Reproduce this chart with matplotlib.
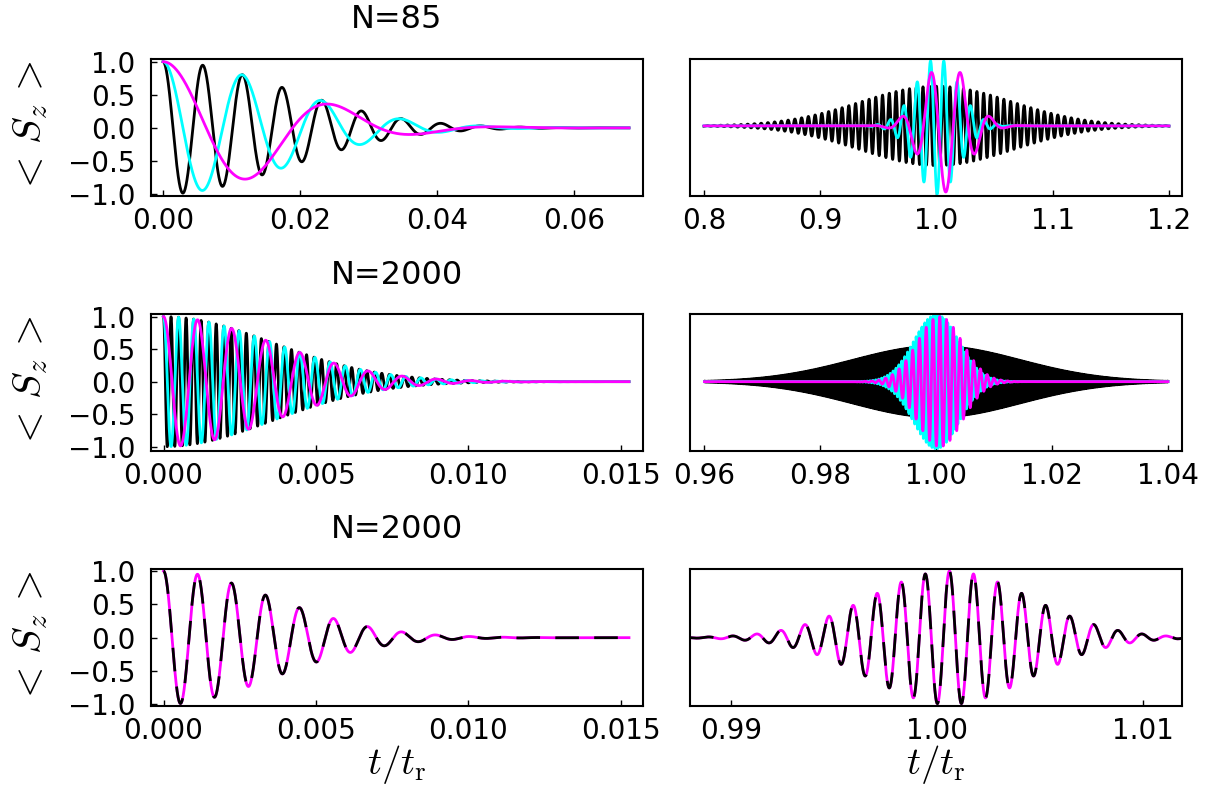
import numpy as np
import matplotlib
matplotlib.use("Agg")
import matplotlib.pyplot as plt

plt.rcParams['font.family'] = ['DejaVu Sans']
plt.rcParams['mathtext.fontset'] = 'cm'
plt.rcParams['axes.unicode_minus'] = True

# ---------------- values ----------------
series_colors = ["#000000", "#00FFFF", "#FF00FF"]   # black, cyan, magenta

# Row 1 (N=85): collapse (left) and revival (right)
r1_left_t = [0.0, 0.068]
r1_left_amp = [1.0, 1.0, 1.0]
r1_left_period = [0.0058, 0.0116, 0.0252]
r1_left_width = [0.0248, 0.0246, 0.0243]

r1_right_t = [0.8, 1.2]
r1_right_amp = [0.60, 1.03, 1.0]
r1_right_period = [0.0058, 0.0115, 0.0255]
r1_right_width = [0.092, 0.026, 0.027]
r1_right_center = [1.0, 1.0006, 1.008]
r1_right_sign = [1, -1, -1]
r1_right_offset = [0.03, 0.03, 0.03]

# Row 2 (N=2000)
r2_left_t = [0.0, 0.01527]
r2_left_amp = [1.0, 1.0, 1.0]
r2_left_period = [0.000247, 0.000497, 0.00112]
r2_left_width = [0.0050, 0.0050, 0.0050]

r2_right_t = [0.96, 1.04]
r2_right_amp = [0.55, 1.03, 1.0]
r2_right_period = [0.000247, 0.000497, 0.00117]
r2_right_width = [0.0205, 0.0055, 0.0055]
r2_right_center = [1.0, 1.0, 1.0006]
r2_right_sign = [1, 1, 1]

# Row 3 (N=2000): magenta solid, black dashed (identical)
r3_left_t = [0.0, 0.01527]
r3_left_amp = [1.0]
r3_left_period = [0.001117]
r3_left_width = [0.0050]

r3_right_t = [0.988, 1.012]
r3_right_amp = [1.0]
r3_right_period = [0.00117]
r3_right_width = [0.0055]
r3_right_center = [1.0006]

titles = ["N=85", "N=2000", "N=2000"]
left_xticks = [[0.0, 0.02, 0.04, 0.06], [0.0, 0.005, 0.010, 0.015], [0.0, 0.005, 0.010, 0.015]]
left_xticklabels = [["0.00", "0.02", "0.04", "0.06"],
                    ["0.000", "0.005", "0.010", "0.015"],
                    ["0.000", "0.005", "0.010", "0.015"]]
right_xticks = [[0.8, 0.9, 1.0, 1.1, 1.2], [0.96, 0.98, 1.00, 1.02, 1.04], [0.99, 1.00, 1.01]]
right_xticklabels = [["0.8", "0.9", "1.0", "1.1", "1.2"],
                     ["0.96", "0.98", "1.00", "1.02", "1.04"],
                     ["0.99", "1.00", "1.01"]]
yticks = [-1.0, -0.5, 0.0, 0.5, 1.0]
yticklabels = ["\u22121.0", "\u22120.5", "0.0", "0.5", "1.0"]


def sz(t, amp, period, width, center=0.0, sign=1, offset=0.0):
    return offset + sign * amp * np.cos(2 * np.pi * (t - center) / period) * \
        np.exp(-((t - center) / width) ** 2)


# ---------------- figure ----------------
W, H = 1217, 796
fig = plt.figure(figsize=(W / 100, H / 100), dpi=100)

col_x = [150.7, 690.0]
col_w = 492.0
row_top = [59.0, 314.0, 569.0]
row_bot = [196.0, 451.0, 706.0]
xlims_left = [(-0.0018, 0.0700), (-0.00042, 0.01572), (-0.00042, 0.01572)]
xlims_right = [(0.788, 1.2112), (0.9575, 1.0424), (0.98801, 1.01189)]
ylims = [(-1.03, 1.041), (-1.066, 1.04), (-1.025, 1.03)]

TICK_FS = 20

axes = []
for r in range(3):
    row = []
    for c in range(2):
        ax = fig.add_axes([col_x[c] / W, 1 - row_bot[r] / H, col_w / W,
                           (row_bot[r] - row_top[r]) / H])
        for s in ax.spines.values():
            s.set_linewidth(1.5)
        ax.tick_params(direction='in', length=4, width=1, labelsize=TICK_FS,
                       top=False, right=False)
        ax.tick_params(axis='x', pad=8)
        ax.tick_params(axis='y', pad=11)
        ax.set_ylim(*ylims[r])
        ax.set_yticks(yticks)
        if c == 0:
            ax.set_yticklabels(yticklabels)
            ax.set_xlim(*xlims_left[r])
            ax.set_xticks(left_xticks[r])
            ax.set_xticklabels(left_xticklabels[r])
        else:
            ax.tick_params(axis='y', left=False, labelleft=False)
            ax.set_xlim(*xlims_right[r])
            ax.set_xticks(right_xticks[r])
            ax.set_xticklabels(right_xticklabels[r])
        row.append(ax)
    axes.append(row)

lw = 2.0

# Row 1
t = np.linspace(r1_left_t[0], r1_left_t[1], 4000)
for i in range(3):
    axes[0][0].plot(t, sz(t, r1_left_amp[i], r1_left_period[i], r1_left_width[i]),
                    color=series_colors[i], lw=lw)
t = np.linspace(r1_right_t[0], r1_right_t[1], 20000)
for i in range(3):
    axes[0][1].plot(t, sz(t, r1_right_amp[i], r1_right_period[i], r1_right_width[i],
                          r1_right_center[i], r1_right_sign[i], r1_right_offset[i]),
                    color=series_colors[i], lw=lw)

# Row 2
t = np.linspace(r2_left_t[0], r2_left_t[1], 20000)
for i in range(3):
    axes[1][0].plot(t, sz(t, r2_left_amp[i], r2_left_period[i], r2_left_width[i]),
                    color=series_colors[i], lw=lw)
t = np.linspace(r2_right_t[0], r2_right_t[1], 60000)
for i in range(3):
    axes[1][1].plot(t, sz(t, r2_right_amp[i], r2_right_period[i], r2_right_width[i],
                          r2_right_center[i], r2_right_sign[i]),
                    color=series_colors[i], lw=lw if i else 1.5)

# Row 3
t = np.linspace(r3_left_t[0], r3_left_t[1], 8000)
y = sz(t, r3_left_amp[0], r3_left_period[0], r3_left_width[0])
axes[2][0].plot(t, y, color=series_colors[2], lw=lw)
axes[2][0].plot(t, y, color=series_colors[0], lw=lw, dashes=(8.5, 5.5))
t = np.linspace(r3_right_t[0], r3_right_t[1], 8000)
y = sz(t, r3_right_amp[0], r3_right_period[0], r3_right_width[0], r3_right_center[0])
axes[2][1].plot(t, y, color=series_colors[2], lw=lw)
axes[2][1].plot(t, y, color=series_colors[0], lw=lw, dashes=(8.5, 5.5))

# Titles above left column
title_y = [20, 275, 530]
for r in range(3):
    fig.text((col_x[0] + col_w / 2) / W, 1 - title_y[r] / H, titles[r],
             ha='center', va='center', fontsize=23)

# y labels
for r in range(3):
    yc = (row_top[r] + row_bot[r]) / 2
    fig.text(30 / W, 1 - yc / H, r"$<\,S_z\,>$", rotation=90,
             ha='center', va='center', fontsize=29)

# x labels
for c in range(2):
    fig.text((col_x[c] + col_w / 2) / W, 1 - 764 / H, r"$t/t_\mathrm{r}$",
             ha='center', va='center', fontsize=28)

fig.savefig("out.png", dpi=100)
